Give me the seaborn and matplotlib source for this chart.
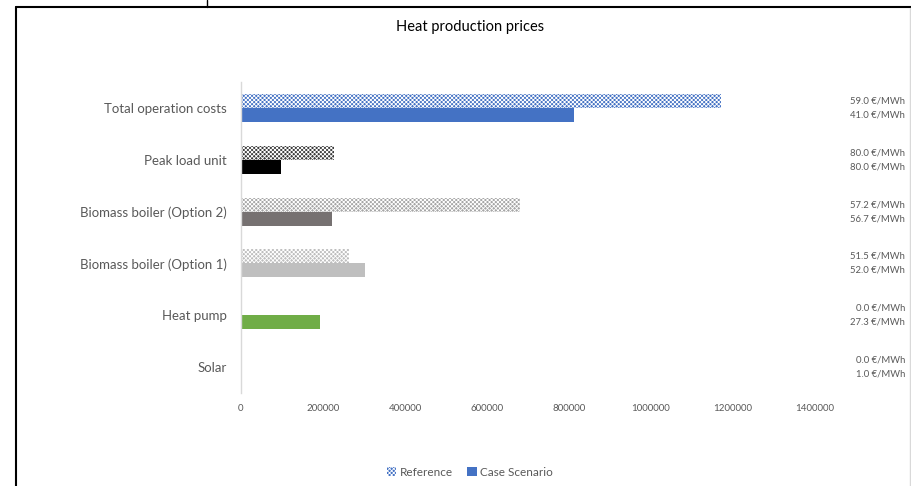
import matplotlib
matplotlib.use("Agg")
import matplotlib.pyplot as plt
import seaborn as sns
import pandas as pd
import numpy as np
from matplotlib.patches import Patch
from matplotlib.lines import Line2D
import matplotlib.transforms as mtransforms

categories = ["Total operation costs", "Peak load unit", "Biomass boiler (Option 2)",
              "Biomass boiler (Option 1)", "Heat pump", "Solar"]
reference = [1170000, 227000, 680000, 263000, 0, 0]
case_scenario = [812000, 97000, 222000, 302000, 193000, 2000]
ref_price = [59.0, 80.0, 57.2, 51.5, 0.0, 0.0]
case_price = [41.0, 80.0, 56.7, 52.0, 27.3, 1.0]
series_names = ["Reference", "Case Scenario"]
x_ticks = [0, 200000, 400000, 600000, 800000, 1000000, 1200000, 1400000]

colors = ["#4472C4", "#3A3A3A", "#A5A5A5", "#BDBDBD", "#70AD47", "#FFC000"]
case_colors = ["#4472C4", "#000000", "#767171", "#BFBFBF", "#70AD47", "#FFC000"]

sns.set_theme(style="white")
plt.rcParams["font.family"] = ["Lato", "DejaVu Sans"]
plt.rcParams["hatch.linewidth"] = 0.6

df = pd.DataFrame({
    "category": categories * 2,
    "value": reference + case_scenario,
    "series": [series_names[0]] * len(categories) + [series_names[1]] * len(categories),
})

fig = plt.figure(figsize=(9.12, 4.86), dpi=100)
ax = fig.add_axes([241 / 912, 1 - 393 / 486, (815 - 241) / 912, (393 - 82) / 486])

sns.barplot(data=df, y="category", x="value", hue="series", orient="h",
            order=categories, hue_order=series_names, width=0.54, dodge=True,
            ax=ax, legend=False, saturation=1)

n = len(categories)
patches = ax.patches
HATCH = "xxxxxxxx"
for i, p in enumerate(patches[:n]):
    p.set_facecolor(colors[i])
    p.set_edgecolor("white")
    p.set_linewidth(0)
    p.set_hatch(HATCH)
for i, p in enumerate(patches[n:2 * n]):
    p.set_facecolor(case_colors[i])
    p.set_edgecolor(case_colors[i])
    p.set_linewidth(0)

ax.set_xlim(0, 1400000)
ax.set_xticks(x_ticks)
ax.set_xticklabels([str(t) for t in x_ticks])
ax.tick_params(axis="x", labelsize=7, colors="#595959", length=0, pad=8)
ax.tick_params(axis="y", labelsize=9.5, colors="#595959", length=0, pad=10)
ax.set_xlabel("")
ax.set_ylabel("")
for s in ["top", "right", "bottom"]:
    ax.spines[s].set_visible(False)
ax.spines["left"].set_color("#D9D9D9")
ax.spines["left"].set_linewidth(1)
ax.grid(False)

# right-side price labels
trans = mtransforms.blended_transform_factory(fig.transFigure, ax.transData)
for i in range(n):
    ax.text(905 / 912, i - 0.135, f"{ref_price[i]:.1f} €/MWh", transform=trans,
            ha="right", va="center", fontsize=6.8, color="#595959")
    ax.text(905 / 912, i + 0.135, f"{case_price[i]:.1f} €/MWh", transform=trans,
            ha="right", va="center", fontsize=6.8, color="#595959")

fig.text(470 / 912, 1 - 27 / 486, "Heat production prices", ha="center", va="center",
         fontsize=10.5, color="#000000")

handles = [Patch(facecolor="#4472C4", edgecolor="white", hatch=HATCH, linewidth=0),
           Patch(facecolor="#4472C4", edgecolor="#4472C4", linewidth=0)]
fig.legend(handles, series_names, loc="center", bbox_to_anchor=(470 / 912, 1 - 472 / 486),
           ncol=2, frameon=False, fontsize=8.5, handlelength=0.8, handleheight=0.8,
           handletextpad=0.3, columnspacing=1.2, labelcolor="#595959")

# outer chart border
fig.add_artist(Line2D([16 / 912, 16 / 912], [0, 1 - 7 / 486], transform=fig.transFigure,
                      color="black", linewidth=1.5))
fig.add_artist(Line2D([16 / 912, 1], [1 - 7 / 486, 1 - 7 / 486], transform=fig.transFigure,
                      color="black", linewidth=1.5))
fig.add_artist(Line2D([207 / 912, 207 / 912], [1 - 7 / 486, 1], transform=fig.transFigure,
                      color="black", linewidth=1))
fig.add_artist(Line2D([910 / 912, 910 / 912], [0, 1 - 8 / 486], transform=fig.transFigure,
                      color="#D9D9D9", linewidth=1))

fig.savefig("out.png", dpi=100)
